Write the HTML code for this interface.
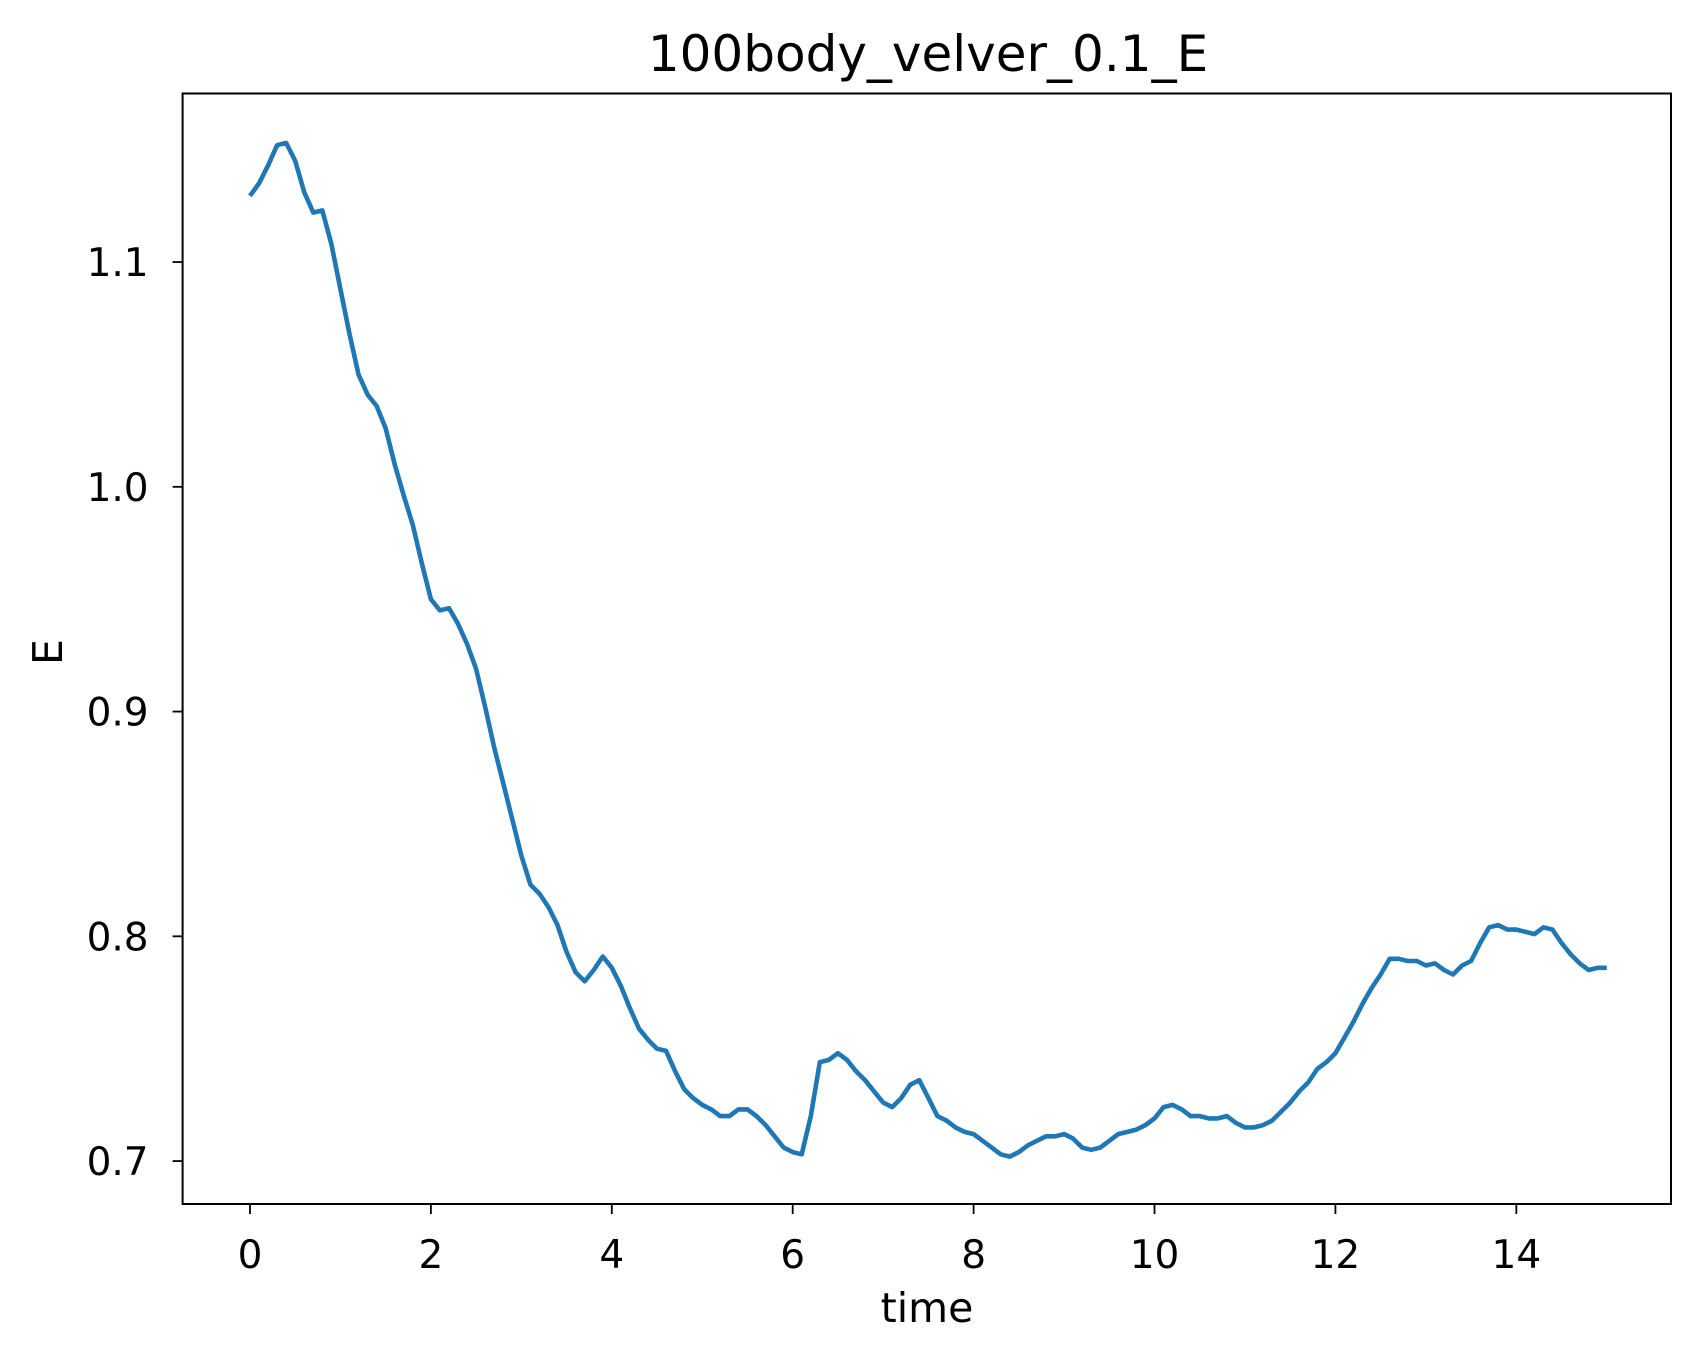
<!DOCTYPE html>
<html><head><meta charset="utf-8"><style>
body{margin:0;background:#fff}
svg text{font-family:"DejaVu Sans","Liberation Sans",sans-serif;fill:#000}
</style></head><body>
<svg id="chart" width="1700" height="1357" viewBox="0 0 1700 1357" xmlns="http://www.w3.org/2000/svg">
<rect width="1700" height="1357" fill="#fff"/>
<text x="928" y="71" font-size="50" text-anchor="middle">100body_velver_0.1_E</text>
<g id="plot"></g>
<rect x="182.6" y="93.5" width="1488.4" height="1110.5" fill="none" stroke="#000" stroke-width="2"/>
<text x="927" y="1322" font-size="41" text-anchor="middle">time</text>
<text x="0" y="0" font-size="41" text-anchor="middle" transform="translate(62,652) rotate(-90)">E</text>
</svg>
<script>
const times=[];for(let i=0;i<=150;i++)times.push(i/10);
const energy=[1.1295,1.135,1.143,1.152,1.153,1.145,1.131,1.122,1.123,1.108,1.088,1.068,1.050,1.041,1.036,1.026,1.010,0.996,0.983,0.966,0.950,0.945,0.946,0.939,0.930,0.919,0.902,0.884,0.868,0.852,0.836,0.823,0.819,0.813,0.805,0.793,0.784,0.780,0.785,0.791,0.786,0.778,0.768,0.759,0.754,0.750,0.749,0.740,0.732,0.728,0.725,0.723,0.720,0.720,0.723,0.723,0.720,0.716,0.711,0.706,0.704,0.703,0.720,0.744,0.745,0.748,0.745,0.740,0.736,0.731,0.726,0.724,0.728,0.734,0.736,0.728,0.720,0.718,0.715,0.713,0.712,0.709,0.706,0.703,0.702,0.704,0.707,0.709,0.711,0.711,0.712,0.710,0.706,0.705,0.706,0.709,0.712,0.713,0.714,0.716,0.719,0.724,0.725,0.723,0.720,0.720,0.719,0.719,0.720,0.717,0.715,0.715,0.716,0.718,0.722,0.726,0.731,0.735,0.741,0.744,0.748,0.755,0.762,0.770,0.777,0.783,0.790,0.790,0.789,0.789,0.787,0.788,0.785,0.783,0.787,0.789,0.797,0.804,0.805,0.803,0.803,0.802,0.801,0.804,0.803,0.797,0.792,0.788,0.785,0.786,0.786];
const xTicks=[0,2,4,6,8,10,12,14];
const yTicks=[0.7,0.8,0.9,1.0,1.1];
const yTickLabels=["0.7","0.8","0.9","1.0","1.1"];
const NS="http://www.w3.org/2000/svg";
const L=182.6,R=1671,T=93.5,B=1204;
const xMin=-0.745,xMax=15.71,yMin=0.6809,yMax=1.175;
const sx=t=>L+(t-xMin)/(xMax-xMin)*(R-L);
const sy=v=>B-(v-yMin)/(yMax-yMin)*(B-T);
const g=document.getElementById('plot');
function mk(tag,attrs){const e=document.createElementNS(NS,tag);for(const k in attrs)e.setAttribute(k,attrs[k]);g.appendChild(e);return e;}
xTicks.forEach(t=>{
  const l=mk('line',{x1:sx(t),x2:sx(t),y1:B,y2:B+10,stroke:'#000','stroke-width':1.8});
  
  
  const tx=mk('text',{x:sx(t),y:B+64,'font-size':39,'text-anchor':'middle'});
  tx.textContent=String(t);
  
  
});
yTicks.forEach((v,i)=>{
  const l=mk('line',{x1:L-10,x2:L,y1:sy(v),y2:sy(v),stroke:'#000','stroke-width':1.8});
  
  
  const tx=mk('text',{x:L-34,y:sy(v)+14,'font-size':39,'text-anchor':'end'});
  tx.textContent=yTickLabels[i];
  
  
});
const d=times.map((t,i)=>(i?'L':'M')+sx(t).toFixed(1)+','+sy(energy[i]).toFixed(1)).join('');
const p=mk('path',{d:d,fill:'none',stroke:'#1f77b4','stroke-width':4.6,'stroke-linejoin':'round'});


</script>
</body></html>
